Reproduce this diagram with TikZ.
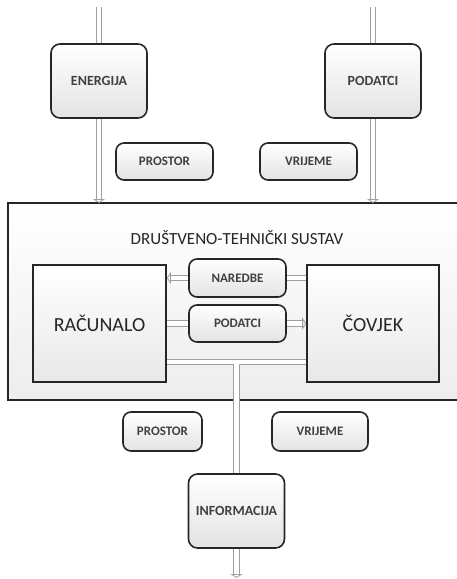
\documentclass[tikz,border=0pt]{standalone}
\usepackage{fontspec}
\setmainfont{Carlito}
\usetikzlibrary{arrows.meta, calc}

\begin{document}
\begin{tikzpicture}[x=1pt, y=-1pt,
    bigbox/.style={rectangle, rounded corners=9pt, draw=black!85, line width=1.6pt, top color=white, bottom color=gray!22, minimum width=96pt, minimum height=74pt, text=black!75, font=\fontsize{14}{16}\selectfont\bfseries},
    smallbox/.style={rectangle, rounded corners=8pt, draw=black!85, line width=1.6pt, top color=white, bottom color=gray!22, minimum width=97pt, minimum height=37pt, text=black!75, font=\fontsize{13}{15}\selectfont\bfseries},
    compbox/.style={rectangle, draw=black!85, line width=1.6pt, top color=white, bottom color=gray!18, minimum width=132pt, minimum height=117pt, text=black!85, font=\fontsize{20}{24}\selectfont},
    sysbox/.style={rectangle, draw=black!85, line width=1.6pt, top color=white, bottom color=gray!14, minimum width=462pt, minimum height=197pt},
    flow/.style={draw=gray!75, line width=0.8pt, double=white, double distance=4.5pt},
    flowtip/.style={flow, -{Triangle[open, length=4pt, width=12pt]}}
]
    \useasboundingbox (0,0) rectangle (456,579);

    % sustav
    \node[sysbox] (sustav) at (239,301.5) {};
    \node[text=black!85, font=\fontsize{17}{20}\selectfont] (naslov) at (237,238) {DRUŠTVENO-TEHNIČKI SUSTAV};

    % ulazi
    \node[bigbox] (energija) at (99,81) {ENERGIJA};
    \node[bigbox] (podatci) at (373,81) {PODATCI};
    \node[smallbox] (prostor1) at (164.5,161.5) {PROSTOR};
    \node[smallbox] (vrijeme1) at (308.5,161.5) {VRIJEME};

    \coordinate (e0) at (99,7);
    \coordinate (e1) at (99,203);
    \coordinate (p0) at (373,7);
    \coordinate (p1) at (373,203);

    \draw[flow] (e0) -- (energija.north);
    \draw[flowtip] (energija.south) -- (e1);
    \draw[flow] (p0) -- (podatci.north);
    \draw[flowtip] (podatci.south) -- (p1);

    % racunalo i covjek
    \node[compbox, minimum width=133pt] (racunalo) at (99.5,323.5) {RAČUNALO};
    \node[compbox] (covjek) at (373,323.5) {ČOVJEK};
    \node[smallbox, minimum height=38pt] (naredbe) at (237.5,278) {NAREDBE};
    \node[smallbox] (podatci2) at (237.5,323.5) {PODATCI};

    \draw[flow] (naredbe.east) -- (naredbe.east -| covjek.west);
    \draw[flowtip] (naredbe.west) -- (naredbe.west -| racunalo.east);
    \draw[flow] (podatci2.west) -- (podatci2.west -| racunalo.east);
    \draw[flowtip] (podatci2.east) -- (podatci2.east -| covjek.west);

    % izlaz
    \node[smallbox, minimum width=79pt, minimum height=39pt] (prostor2) at (162.5,431.5) {PROSTOR};
    \node[smallbox, minimum width=96pt, minimum height=39pt] (vrijeme2) at (320,431.5) {VRIJEME};
    \node[bigbox, inner sep=2pt] (informacija) at (236.5,511) {INFORMACIJA};

    \coordinate (spoj) at (236.5,362);
    \coordinate (kraj) at (236.5,578);
    \draw[flow] (spoj -| racunalo.east) -- (spoj -| covjek.west)
        (spoj) -- (informacija.north);
    \draw[flowtip] (informacija.south) -- (kraj);
\end{tikzpicture}
\end{document}
